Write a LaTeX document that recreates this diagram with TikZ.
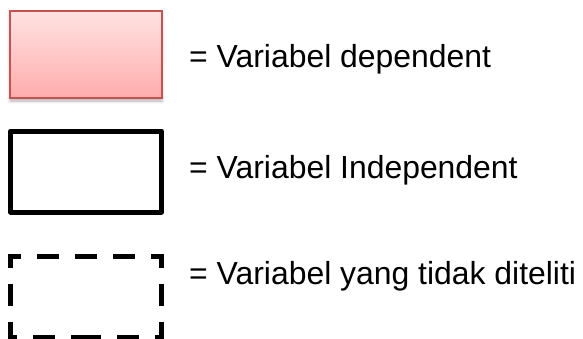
\documentclass[tikz,border=0pt]{standalone}
\usepackage{fontspec}
\setmainfont{Liberation Sans}
\usetikzlibrary{shadows.blur}
\definecolor{pinkedge}{RGB}{200,82,80}
\definecolor{pinktop}{RGB}{255,226,226}
\definecolor{pinkbot}{RGB}{255,172,172}
\tikzset{
  x=1pt, y=-1pt,
  label/.style={anchor=base west, inner sep=0pt, font=\fontsize{31.9}{36}\selectfont},
  depbox/.style={draw=pinkedge, line width=1.5pt, top color=pinktop, bottom color=pinkbot,
    minimum width=152pt, minimum height=87pt, inner sep=0pt,
    blur shadow={shadow xshift=0pt, shadow yshift=-3pt, shadow blur radius=3pt, shadow opacity=30}},
  indbox/.style={draw=black, line width=5pt, line join=round, minimum width=151pt, minimum height=81pt, inner sep=0pt},
  holder/.style={minimum width=151pt, minimum height=80pt, inner sep=0pt},
  dashline/.style={line width=5pt, dash pattern=on 22pt off 16pt, dash phase=11pt, line join=miter}
}
\begin{document}
\begin{tikzpicture}
\useasboundingbox (0,0) rectangle (583,338);
\node[depbox] (dep) at (86,54.5) {};
\node[indbox] (ind) at (86,171.5) {};
\node[holder] (tdk) at (86,297) {};
\draw[dashline] (tdk.north) -- (tdk.north east) -- (tdk.south east) -- (tdk.south);
\draw[dashline] (tdk.north) -- (tdk.north west) -- (tdk.south west) -- (tdk.south);
\node[label] (t1) at (189,67) {= Variabel dependent};
\node[label] (t2) at (189,178) {= Variabel Independent};
\node[label] (t3) at (189,284) {= Variabel yang tidak diteliti};
\end{tikzpicture}
\end{document}
